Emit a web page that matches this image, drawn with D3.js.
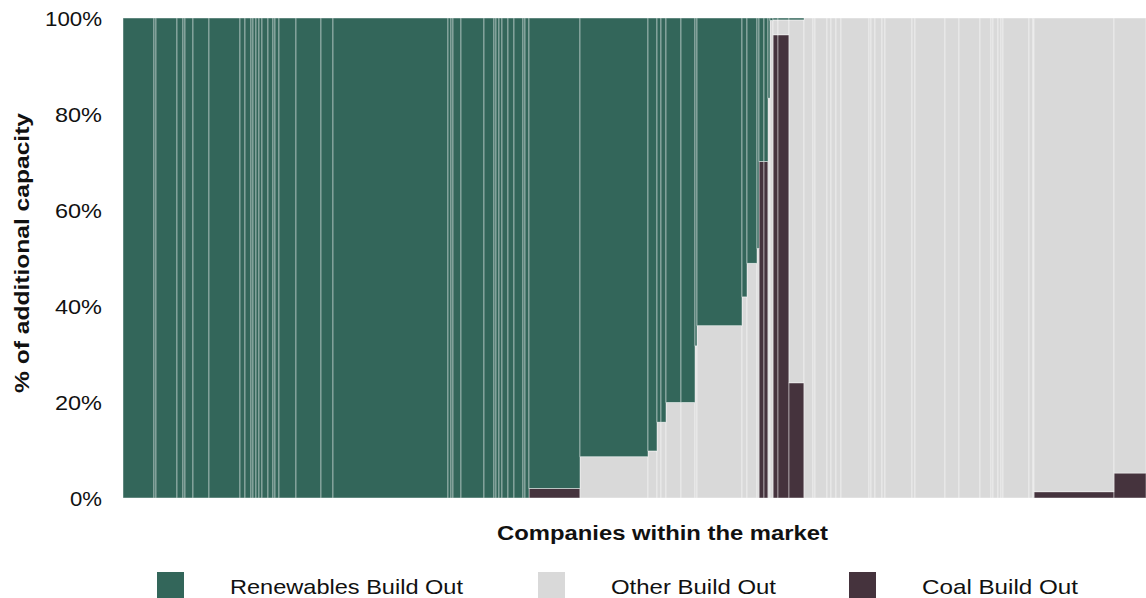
<!DOCTYPE html>
<html>
<head>
<meta charset="utf-8">
<script src="https://cdn.jsdelivr.net/npm/d3@7"></script>
<style>
  html, body { margin: 0; padding: 0; background: #fff; }
  svg { display: block; font-family: "Liberation Sans", Arial, sans-serif; }
</style>
</head>
<body>
<svg id="chart" width="1146" height="598"></svg>
<script>
// ---- data ----
// relative size (total additional capacity) of each company, left to right
const companyWeights = [
  31, 2, 21, 6, 2, 8, 16, 31, 5, 6, 2, 3, 3, 3, 6, 5, 2, 4, 17, 25, 12, 115, 3, 2, 8, 23, 10, 2, 3, 3, 6, 6, 9, 2, 4,
  51, 68, 9, 4, 5, 15, 14, 2, 45, 5, 10, 2, 5, 4, 2, 3, 5, 11, 15,
  9, 2, 12, 4, 5, 5, 28, 2, 4, 7, 3, 27, 3, 30, 14, 21, 11, 2, 5, 3, 2, 26, 4, 1, 80, 32
];
// share of each build-out type (%) per company
const coalShare = [
  0, 0, 0, 0, 0, 0, 0, 0, 0, 0, 0, 0, 0, 0, 0, 0, 0, 0, 0, 0, 0, 0, 0, 0, 0, 0, 0, 0, 0, 0, 0, 0, 0, 0, 0,
  2, 0, 0, 0, 0, 0, 0, 0, 0, 0, 0, 0, 70.1, 70.1, 0, 0, 96.5, 96.5, 24,
  0, 0, 0, 0, 0, 0, 0, 0, 0, 0, 0, 0, 0, 0, 0, 0, 0, 0, 0, 0, 0, 0, 0, 0, 1.3, 5.2
];
const otherShare = [
  0, 0, 0, 0, 0, 0, 0, 0, 0, 0, 0, 0, 0, 0, 0, 0, 0, 0, 0, 0, 0, 0, 0, 0, 0, 0, 0, 0, 0, 0, 0, 0, 0, 0, 0,
  0, 8.6, 9.8, 15.8, 15.8, 19.9, 19.9, 31.7, 35.9, 41.9, 48.9, 52, 0, 0, 83.3, 99.5, 3.1, 3.1, 75.6,
  100, 100, 100, 100, 100, 100, 100, 100, 100, 100, 100, 100, 100, 100, 100, 100, 100, 100, 100, 100, 100, 100, 100, 100, 98.7, 94.8
];
const renewablesShare = [
  100, 100, 100, 100, 100, 100, 100, 100, 100, 100, 100, 100, 100, 100, 100, 100, 100, 100, 100, 100, 100, 100, 100, 100, 100, 100, 100, 100, 100, 100, 100, 100, 100, 100, 100,
  98, 91.4, 90.2, 84.2, 84.2, 80.1, 80.1, 68.3, 64.1, 58.1, 51.1, 48, 29.9, 29.9, 16.7, 0.5, 0.4, 0.4, 0.4,
  0, 0, 0, 0, 0, 0, 0, 0, 0, 0, 0, 0, 0, 0, 0, 0, 0, 0, 0, 0, 0, 0, 0, 0, 0, 0
];
const seriesNames = ["Coal Build Out", "Other Build Out", "Renewables Build Out"];
const legendOrder = ["Renewables Build Out", "Other Build Out", "Coal Build Out"];
const yTicks = [0, 20, 40, 60, 80, 100];
const xTitle = "Companies within the market";
const yTitle = "% of additional capacity";

// ---- styles ----
const colors = {
  "Renewables Build Out": "#33665a",
  "Other Build Out": "#d9d9d9",
  "Coal Build Out": "#45333d"
};

const svg = d3.select("#chart");
const margin = { left: 123, right: 0, top: 18, bottom: 100 };
const W = 1146, H = 598;
const plotBottom = 498;

// cumulative positions for companies
const rows = companyWeights.map((w, i) => ({
  i, w,
  values: { "Coal Build Out": coalShare[i], "Other Build Out": otherShare[i], "Renewables Build Out": renewablesShare[i] }
}));
let acc = 0;
rows.forEach(r => { r.x0 = acc; acc += r.w; r.x1 = acc; });
const total = acc;

const x = d3.scaleLinear().domain([0, total]).range([margin.left, W - margin.right]);
const y = d3.scaleLinear().domain([0, 100]).range([plotBottom, margin.top]);

const stack = d3.stack().keys(seriesNames).value((d, k) => d.values[k]);
const stacked = stack(rows);

const g = svg.append("g");
stacked.forEach(layer => {
  g.selectAll(null)
    .data(layer.filter(d => d[1] - d[0] > 0))
    .join("rect")
    .attr("x", d => x(d.data.x0))
    .attr("width", d => Math.max(0, x(d.data.x1) - x(d.data.x0)))
    .attr("y", d => y(Math.min(100, d[1])))
    .attr("height", d => y(d[0]) - y(Math.min(100, d[1])))
    .attr("fill", colors[layer.key])
    .attr("stroke", "rgba(255,255,255,0.55)")
    .attr("stroke-width", 0.8);
});

// y axis (labels only)
const yAxis = d3.axisLeft(y).tickValues(yTicks).tickFormat(d => d + "%").tickSize(0).tickPadding(21);
const ya = svg.append("g").attr("transform", `translate(${margin.left},0)`).call(yAxis);
ya.select(".domain").remove();
ya.selectAll("text")
  .attr("font-size", 21)
  .attr("fill", "#111")
  .attr("font-family", "Liberation Sans, Arial, sans-serif")
  .attr("dy", "0.36em")
  .attr("textLength", d => d === 100 ? 57 : (d === 0 ? 32 : 47))
  .attr("lengthAdjust", "spacingAndGlyphs");

// axis titles
svg.append("text")
  .attr("x", 497)
  .attr("y", 540)
  .attr("text-anchor", "start")
  .attr("font-size", 20)
  .attr("font-weight", "bold")
  .attr("fill", "#111")
  .attr("textLength", 331)
  .attr("lengthAdjust", "spacingAndGlyphs")
  .text(xTitle);

svg.append("text")
  .attr("transform", `translate(29,393) rotate(-90)`)
  .attr("text-anchor", "start")
  .attr("font-size", 20)
  .attr("font-weight", "bold")
  .attr("fill", "#111")
  .attr("textLength", 280)
  .attr("lengthAdjust", "spacingAndGlyphs")
  .text(yTitle);

// legend
const legendX = [157, 538, 849];
const legendTextLen = [233, 165, 156];
const lg = svg.append("g");
legendOrder.forEach((name, i) => {
  lg.append("rect")
    .attr("x", legendX[i]).attr("y", 572)
    .attr("width", 27).attr("height", 30)
    .attr("fill", colors[name]);
  lg.append("text")
    .attr("x", legendX[i] + 73).attr("y", 594)
    .attr("font-size", 21)
    .attr("fill", "#111")
    .attr("textLength", legendTextLen[i])
    .attr("lengthAdjust", "spacingAndGlyphs")
    .text(name);
});
</script>
</body>
</html>
